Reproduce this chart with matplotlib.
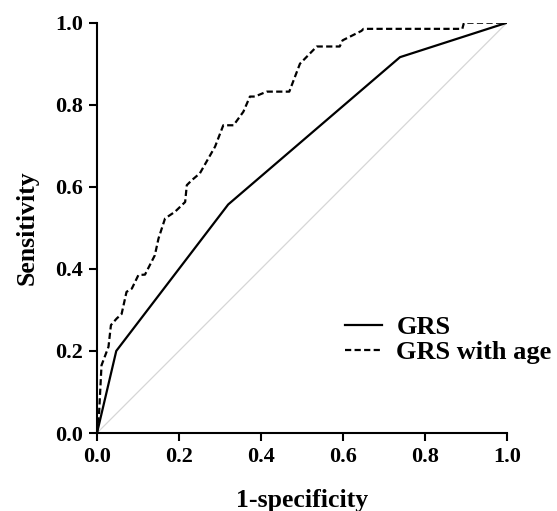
import matplotlib
matplotlib.use('Agg')
import matplotlib.pyplot as plt

# ROC curves
grs_fpr = [0.0, 0.047, 0.32, 0.739, 1.0]
grs_tpr = [0.0, 0.20, 0.557, 0.916, 1.0]

age_fpr = [0.0, 0.005, 0.011, 0.028, 0.034, 0.048, 0.06, 0.072, 0.085, 0.101,
           0.117, 0.141, 0.15, 0.166, 0.19, 0.215, 0.219, 0.231, 0.251, 0.288,
           0.308, 0.333, 0.357, 0.373, 0.385, 0.414, 0.469, 0.495, 0.536, 0.592,
           0.599, 0.645, 0.65, 0.891, 0.895, 1.0]
age_tpr = [0.0, 0.047, 0.165, 0.21, 0.263, 0.279, 0.29, 0.344, 0.352, 0.385,
           0.386, 0.433, 0.474, 0.523, 0.539, 0.563, 0.604, 0.616, 0.633, 0.698,
           0.75, 0.75, 0.783, 0.82, 0.82, 0.832, 0.832, 0.90, 0.942, 0.942,
           0.957, 0.98, 0.985, 0.985, 1.0, 1.0]

ticks = [0.0, 0.2, 0.4, 0.6, 0.8, 1.0]
tick_labels = ['0.0', '0.2', '0.4', '0.6', '0.8', '1.0']

plt.rcParams['font.family'] = ['Liberation Serif', 'DejaVu Serif']
plt.rcParams['font.weight'] = 'bold'

fig = plt.figure(figsize=(5.57, 5.11), dpi=100)
ax = fig.add_axes([97 / 557, 78 / 511, 410 / 557, 410.3 / 511])

ax.plot([0, 1], [0, 1], color='#d6d6d6', lw=0.9, zorder=1)
ax.plot(grs_fpr, grs_tpr, color='black', lw=1.6, label='GRS', zorder=3)
ax.plot(age_fpr, age_tpr, color='black', lw=1.6, dashes=(2.8, 1.5),
        label='GRS with age', zorder=2)

ax.set_xlim(0, 1)
ax.set_ylim(0, 1)
ax.set_xticks(ticks)
ax.set_yticks(ticks)
ax.set_xticklabels(tick_labels, fontsize=16, fontweight='bold')
ax.set_yticklabels(tick_labels, fontsize=16, fontweight='bold')
ax.tick_params(direction='out', length=6, width=1.5, pad=4)

for side in ['top', 'right']:
    ax.spines[side].set_visible(False)
for side in ['left', 'bottom']:
    ax.spines[side].set_linewidth(1.5)

ax.set_xlabel('1-specificity', fontsize=18.5, fontweight='bold', labelpad=16)
ax.set_ylabel('Sensitivity', fontsize=18.5, fontweight='bold', labelpad=12)

fig.legend(loc='upper left', bbox_to_anchor=(345 / 557, 1 - 316 / 511),
           frameon=False, handlelength=1.4, handletextpad=0.55,
           borderaxespad=0, borderpad=0, labelspacing=0.05,
           prop={'family': 'Liberation Serif', 'weight': 'bold', 'size': 19})

fig.savefig('out.png', dpi=100)
